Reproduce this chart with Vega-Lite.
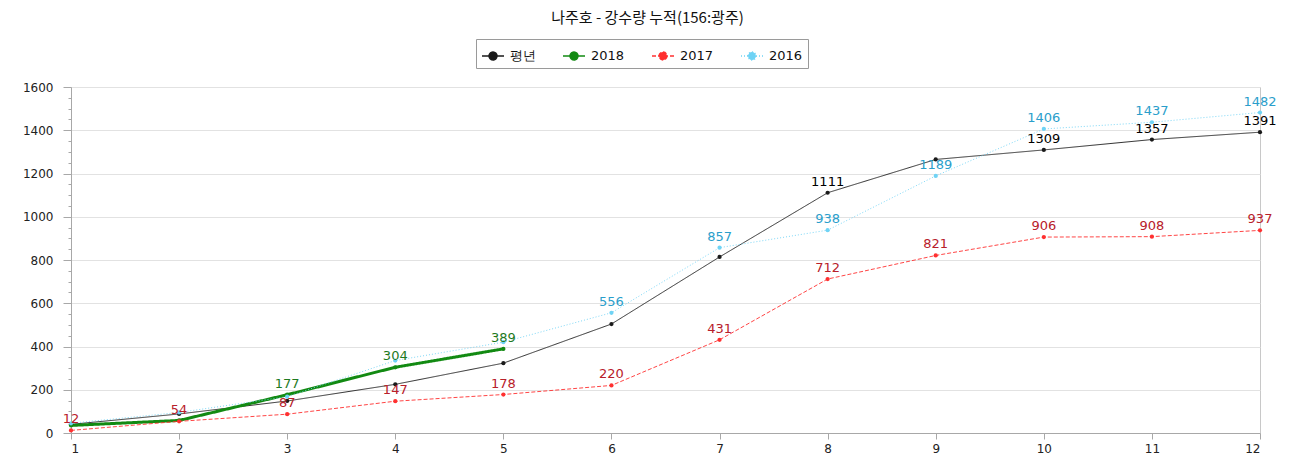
{
  "$schema": "https://vega.github.io/schema/vega-lite/v6.json",
  "width": 1189,
  "height": 346,
  "autosize": {"type": "none"},
  "padding": {"left": 71, "top": 87, "right": 32, "bottom": 28},
  "background": "white",
  "config": {
    "view": {"stroke": "#c8c8c8", "strokeWidth": 1},
    "font": "DejaVu Sans"
  },
  "title": {
    "text": "나주호 - 강수량 누적(156:광주)",
    "font": "Noto Sans CJK KR",
    "fontSize": 15,
    "fontWeight": "normal",
    "color": "#111",
    "anchor": "middle",
    "frame": "group",
    "dx": -18,
    "offset": 13
  },
  "data": {
    "values": [
      {"month": 1, "series": "평년", "value": 40, "label": null},
      {"month": 2, "series": "평년", "value": 88, "label": null},
      {"month": 3, "series": "평년", "value": 148, "label": null},
      {"month": 4, "series": "평년", "value": 225, "label": null},
      {"month": 5, "series": "평년", "value": 323, "label": null},
      {"month": 6, "series": "평년", "value": 504, "label": null},
      {"month": 7, "series": "평년", "value": 814, "label": null},
      {"month": 8, "series": "평년", "value": 1111, "label": "1111"},
      {"month": 9, "series": "평년", "value": 1265, "label": null},
      {"month": 10, "series": "평년", "value": 1309, "label": "1309"},
      {"month": 11, "series": "평년", "value": 1357, "label": "1357"},
      {"month": 12, "series": "평년", "value": 1391, "label": "1391"},
      {"month": 1, "series": "2018", "value": 35, "label": null},
      {"month": 2, "series": "2018", "value": 58, "label": null},
      {"month": 3, "series": "2018", "value": 177, "label": "177"},
      {"month": 4, "series": "2018", "value": 304, "label": "304"},
      {"month": 5, "series": "2018", "value": 389, "label": "389"},
      {"month": 1, "series": "2017", "value": 12, "label": "12"},
      {"month": 2, "series": "2017", "value": 54, "label": "54"},
      {"month": 3, "series": "2017", "value": 87, "label": "87"},
      {"month": 4, "series": "2017", "value": 147, "label": "147"},
      {"month": 5, "series": "2017", "value": 178, "label": "178"},
      {"month": 6, "series": "2017", "value": 220, "label": "220"},
      {"month": 7, "series": "2017", "value": 431, "label": "431"},
      {"month": 8, "series": "2017", "value": 712, "label": "712"},
      {"month": 9, "series": "2017", "value": 821, "label": "821"},
      {"month": 10, "series": "2017", "value": 906, "label": "906"},
      {"month": 11, "series": "2017", "value": 908, "label": "908"},
      {"month": 12, "series": "2017", "value": 937, "label": "937"},
      {"month": 1, "series": "2016", "value": 45, "label": null},
      {"month": 2, "series": "2016", "value": 95, "label": null},
      {"month": 3, "series": "2016", "value": 168, "label": null},
      {"month": 4, "series": "2016", "value": 335, "label": null},
      {"month": 5, "series": "2016", "value": 420, "label": null},
      {"month": 6, "series": "2016", "value": 556, "label": "556"},
      {"month": 7, "series": "2016", "value": 857, "label": "857"},
      {"month": 8, "series": "2016", "value": 938, "label": "938"},
      {"month": 9, "series": "2016", "value": 1189, "label": "1189"},
      {"month": 10, "series": "2016", "value": 1406, "label": "1406"},
      {"month": 11, "series": "2016", "value": 1437, "label": "1437"},
      {"month": 12, "series": "2016", "value": 1482, "label": "1482"}
    ]
  },
  "encoding": {
    "x": {
      "field": "month",
      "type": "quantitative",
      "scale": {"domain": [1, 12], "nice": false, "zero": false},
      "axis": {
        "title": null,
        "values": [1, 2, 3, 4, 5, 6, 7, 8, 9, 10, 11, 12],
        "format": "d",
        "grid": false,
        "domainColor": "#a8a8a8",
        "tickColor": "#a8a8a8",
        "tickSize": 6,
        "labelPadding": 4,
        "labelFontSize": 12,
        "labelColor": "#222",
        "labelFont": "DejaVu Sans"
      }
    },
    "y": {
      "field": "value",
      "type": "quantitative",
      "scale": {"domain": [0, 1600], "nice": false},
      "axis": {
        "title": null,
        "format": "d",
        "values": [0, 50, 100, 150, 200, 250, 300, 350, 400, 450, 500, 550, 600, 650, 700, 750, 800, 850, 900, 950, 1000, 1050, 1100, 1150, 1200, 1250, 1300, 1350, 1400, 1450, 1500, 1550, 1600],
        "labelExpr": "datum.value % 200 === 0 ? datum.label : ''",
        "tickSize": {"condition": {"test": "datum.value % 200 === 0", "value": 8}, "value": 3},
        "gridOpacity": {"condition": {"test": "datum.value % 200 === 0", "value": 1}, "value": 0},
        "gridColor": "#e2e2e2",
        "domainColor": "#a8a8a8",
        "tickColor": "#a8a8a8",
        "labelPadding": 10,
        "labelFontSize": 12,
        "labelColor": "#222",
        "labelFont": "DejaVu Sans"
      }
    }
  },
  "layer": [
    {
      "layer": [
        {
          "mark": {"type": "line", "clip": false},
          "encoding": {
            "color": {
              "field": "series",
              "type": "nominal",
              "sort": ["평년", "2018", "2017", "2016"],
              "scale": {"domain": ["평년", "2018", "2017", "2016"], "range": ["#1a1a1a", "#128a12", "#ff3030", "#6fd3f5"]},
              "legend": {
                "orient": "none",
                "legendX": 405,
                "legendY": -48,
                "direction": "horizontal",
                "columns": 4,
                "title": null,
                "strokeColor": "#9a9a9a",
                "padding": 5,
                "columnPadding": 24,
                "symbolType": "M-1,0 L1,0 M-0.36,0 A0.36,0.36 0 1,1 0.36,0 A0.36,0.36 0 1,1 -0.36,0 Z",
                "symbolSize": 484,
                "symbolStrokeWidth": 1.5,
                "labelFont": "DejaVu Sans",
                "labelFontSize": 13,
                "labelColor": "#111",
                "labelOffset": 5,
                "encode": {"symbols": {"update": {
                  "fill": {"scale": "color", "field": "value"},
                  "strokeDash": {"scale": "strokeDash", "field": "value"}
                }}}
              }
            },
            "strokeDash": {
              "field": "series",
              "type": "nominal",
              "sort": ["평년", "2018", "2017", "2016"],
              "scale": {"domain": ["평년", "2018", "2017", "2016"], "range": [[1, 0], [1, 0], [4, 2], [1, 2]]},
              "legend": null
            },
            "strokeWidth": {
              "condition": {"test": "datum.series === '2018'", "value": 3},
              "value": 0.9
            }
          }
        },
        {
          "mark": {"type": "point", "filled": true, "opacity": 1, "size": 18, "clip": false},
          "encoding": {
            "color": {
              "field": "series",
              "type": "nominal",
              "sort": ["평년", "2018", "2017", "2016"]
            }
          }
        }
      ]
    },
    {
      "transform": [{"filter": "datum.label != null"}],
      "mark": {"type": "text", "baseline": "bottom", "dy": -4, "fontSize": 13, "font": "DejaVu Sans"},
      "encoding": {
        "text": {"field": "label"},
        "color": {
          "field": "series",
          "type": "nominal",
          "scale": {"domain": ["평년", "2018", "2017", "2016"], "range": ["#000000", "#1e7a1e", "#b8202a", "#2a9ecb"]},
          "legend": null
        }
      }
    }
  ],
  "resolve": {"scale": {"color": "independent"}}
}
